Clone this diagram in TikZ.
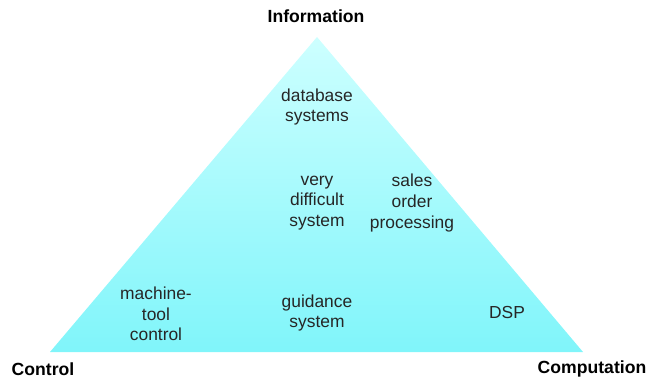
\documentclass[tikz,border=0pt]{standalone}
\usepackage{fontspec}
\setmainfont{Liberation Sans}
\definecolor{triTop}{RGB}{205,255,255}
\definecolor{triBottom}{RGB}{128,245,250}
\tikzset{
  lbl/.style={align=center, font=\fontsize{17.4}{20.6}\selectfont, text=black!85, inner sep=0pt},
  corner/.style={font=\fontsize{17.6}{20}\selectfont\bfseries, inner sep=0pt},
}
\begin{document}
\begin{tikzpicture}[x=1pt,y=-1pt]
  \useasboundingbox (0,0) rectangle (648,379);
  % shaded triangle
  \coordinate (apex) at (317,37);
  \coordinate (bl) at (50,352);
  \coordinate (br) at (583,352);
  \shade[top color=triTop, bottom color=triBottom] (apex) -- (br) -- (bl) -- cycle;
  % corner labels
  \node[corner] (info) at (316,16) {Information};
  \node[corner] (ctrl) at (43,369) {Control};
  \node[corner] (comp) at (592,369) {Computation};
  % application areas
  \node[lbl] (db) at (317,107) {database\\systems};
  \node[lbl] (vds) at (317,203) {very\\difficult\\system};
  \node[lbl] (sop) at (412,203) {sales\\order\\processing};
  \node[lbl] (mtc) at (156,314) {machine-\\tool\\control};
  \node[lbl] (gs) at (317,313) {guidance\\system};
  \node[lbl] (dsp) at (507,313) {DSP};
\end{tikzpicture}
\end{document}
